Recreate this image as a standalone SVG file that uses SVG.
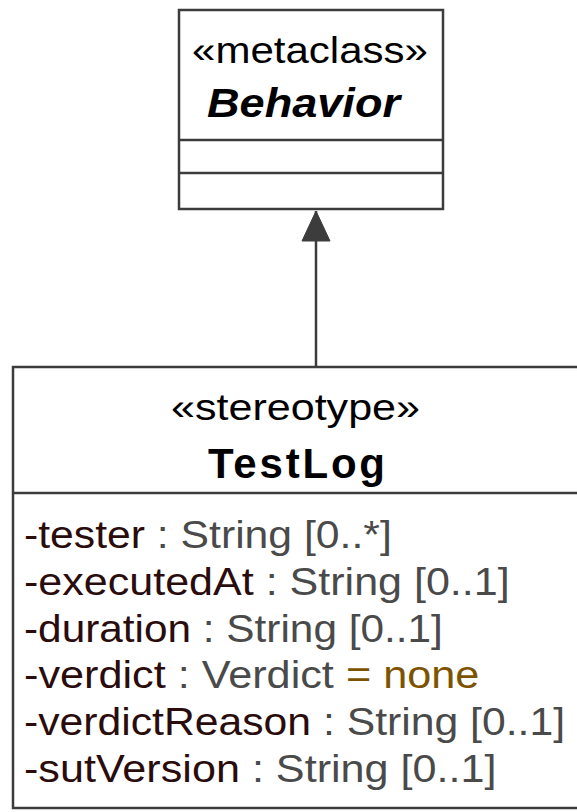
<svg xmlns="http://www.w3.org/2000/svg" width="577" height="812" viewBox="0 0 577 812">
<style>
.box{fill:#fff;stroke:#3c3c3c;stroke-width:2.5}
.sep{stroke:#3c3c3c;stroke-width:2.5}
.t{font-family:"Liberation Sans",Arial,sans-serif;fill:#000}
.attr{font-family:"Liberation Sans",Arial,sans-serif;font-size:38px}
.nm{fill:#2a0c0c}
.ty{fill:#4a4a4a}
.dv{fill:#7d5200}
</style>
<defs>
<marker id="gen" markerWidth="34" markerHeight="32" refX="32" refY="16" orient="auto" markerUnits="userSpaceOnUse">
<path d="M2,2 L32,16 L2,30 Z" fill="#3c3c3c" stroke="#3c3c3c" stroke-width="1"/>
</marker>
</defs>
<g id="connectors">
<line x1="316" y1="367" x2="316" y2="211" stroke="#3c3c3c" stroke-width="2.5" marker-end="url(#gen)"/>
</g>
<g id="Behavior">
<rect class="box" x="179" y="10" width="264" height="199"/>
<line class="sep" x1="179" y1="140" x2="443" y2="140"/>
<line class="sep" x1="179" y1="173" x2="443" y2="173"/>
<text class="t" x="192" y="63" font-size="37" textLength="236" lengthAdjust="spacingAndGlyphs">«metaclass»</text>
<text class="t" x="207" y="117" font-size="41" font-weight="bold" font-style="italic" textLength="193" lengthAdjust="spacingAndGlyphs">Behavior</text>
</g>
<g id="TestLog">
<rect class="box" x="13" y="367" width="580" height="441"/>
<line class="sep" x1="13" y1="493" x2="577" y2="493"/>
<text class="t" x="171" y="420" font-size="37" textLength="249" lengthAdjust="spacingAndGlyphs">«stereotype»</text>
<text class="t" x="208" y="478" font-size="42" font-weight="bold" textLength="177" lengthAdjust="spacing">TestLog</text>
<text class="attr" transform="translate(24,548) scale(1.124,1)"><tspan class="nm">-tester</tspan><tspan class="ty"> : String [0..*]</tspan></text>
<text class="attr" transform="translate(24,595) scale(1.133,1)"><tspan class="nm">-executedAt</tspan><tspan class="ty"> : String [0..1]</tspan></text>
<text class="attr" transform="translate(24,642) scale(1.114,1)"><tspan class="nm">-duration</tspan><tspan class="ty"> : String [0..1]</tspan></text>
<text class="attr" transform="translate(24,688) scale(1.138,1)"><tspan class="nm">-verdict</tspan><tspan class="ty"> : Verdict </tspan><tspan class="dv">= none</tspan></text>
<text class="attr" transform="translate(24,735) scale(1.124,1)"><tspan class="nm">-verdictReason</tspan><tspan class="ty"> : String [0..1]</tspan></text>
<text class="attr" transform="translate(24,782) scale(1.136,1)"><tspan class="nm">-sutVersion</tspan><tspan class="ty"> : String [0..1]</tspan></text>
</g>
</svg>
